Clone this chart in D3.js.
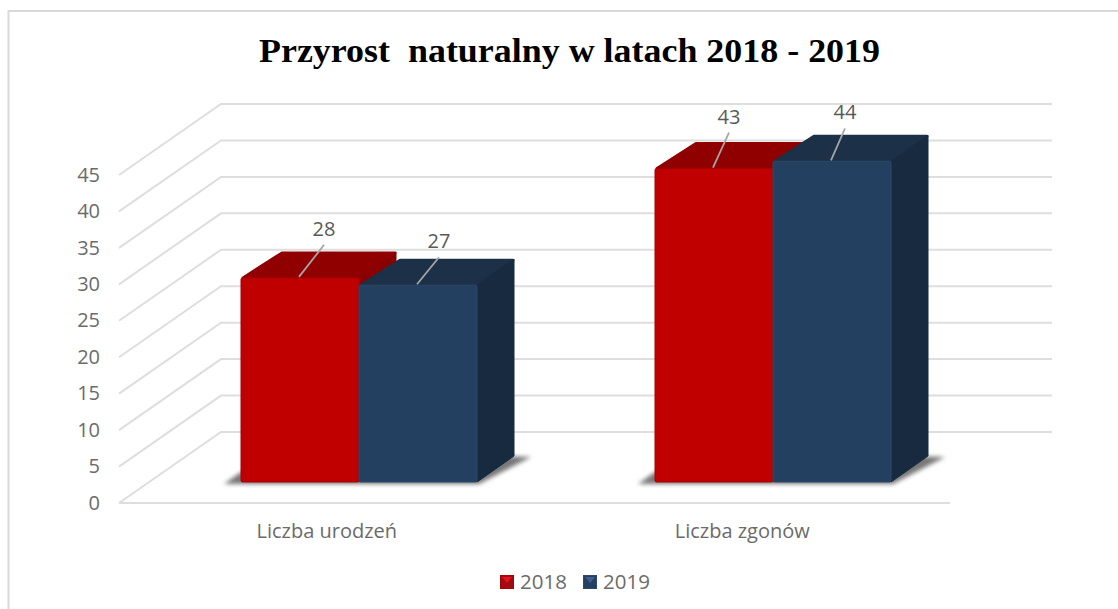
<!DOCTYPE html>
<html><head><meta charset="utf-8">
<script src="https://cdn.jsdelivr.net/npm/d3@7/dist/d3.min.js"></script>
<style>html,body{margin:0;background:#fff}svg{display:block}</style></head>
<body><svg id="c" width="1118" height="609"></svg>
<script>
const titleText = "Przyrost  naturalny w latach 2018 - 2019";
const categories = ["Liczba urodzeń", "Liczba zgonów"];
const seriesNames = ["2018", "2019"];
const values2018 = [28, 43];
const values2019 = [27, 44];
const tickValues = [0, 5, 10, 15, 20, 25, 30, 35, 40, 45];

const W = 1118, H = 609;
const svg = d3.select("#c");
const defs = svg.append("defs");
defs.append("filter").attr("id","sh").attr("x","-20%").attr("y","-50%").attr("width","140%").attr("height","200%")
  .append("feGaussianBlur").attr("stdDeviation",2.2);

const y = d3.scaleLinear().domain([0,45]).range([503,175]);
const x0 = d3.scaleBand().domain(categories).range([119,950]);
const xBars = d3.scaleBand().domain(categories).range([152,980]);
const backDx = 102, backDy = -71;
const barPlaneDy = -21;
const barDepth = {dx:37, dy:-26};
const barW = 118;
const colors = {
  "2018":{front:"#c00000",top:"#900000",side:"#8a0000",edge:"#a80000",legend:"#e8101a",legendBase:"#a00a10"},
  "2019":{front:"#244061",top:"#1c3048",side:"#172a40",edge:"#2f4869",legend:"#3d5f8f",legendBase:"#243f63"}
};
const grid = "#dedede";
const textCol = "#6b6b6b";
const sans = "'Open Sans','Noto Sans',sans-serif";

// frame: top and left edges only
svg.append("path").attr("d",`M8.5,${H} V11 H${W}`).attr("fill","none").attr("stroke","#d9d9d9").attr("stroke-width",2);

// title
svg.append("text").attr("x",259).attr("y",62)
  .attr("font-family","'Liberation Serif',serif").attr("font-weight","bold").attr("font-size",33)
  .attr("textLength",621).attr("lengthAdjust","spacingAndGlyphs")
  .attr("xml:space","preserve").style("white-space","pre").attr("fill","#000").text(titleText);

// gridlines: back wall + side wall
const g = svg.append("g").attr("fill","none").attr("stroke",grid).attr("stroke-width",2);
tickValues.forEach(t=>{
  const x1=x0.range()[0], x2=x1+backDx, yy=y(t);
  g.append("path").attr("d",`M${x1},${yy} L${x2},${yy+backDy} H${x0.range()[1]+backDx}`);
});
g.append("path").attr("d",`M${x0.range()[0]},${y(0)} H${x0.range()[1]}`);

// axis labels
const yAxis = d3.axisLeft(y).tickValues(tickValues).tickSize(0).tickPadding(0);
const ya = svg.append("g").attr("transform","translate(100,-1)").call(yAxis);
ya.select(".domain").remove();
ya.selectAll("text").attr("font-family",sans).attr("font-size",20).attr("fill",textCol).attr("dy","0.36em");

const xAxis = d3.axisBottom(x0).tickSize(0).tickPadding(0);
const xa = svg.append("g").attr("transform","translate(0,538)").call(xAxis);
xa.select(".domain").remove();
xa.selectAll("text").attr("font-family",sans).attr("font-size",20).attr("fill",textCol).attr("dy",0);

// bars
const series = [{name:"2018",vals:values2018},{name:"2019",vals:values2019}];
const leaderDx=[[24,21],[15,13]], leaderDy=[[-33,-28],[-36,-33]];
const base = y(0)+barPlaneDy;
const scaleH = v => y(0)-y(v);
const center = c => xBars(c)+xBars.bandwidth()/2;

categories.forEach((c,ci)=>{
  const cx = center(c);
  svg.append("path").attr("filter","url(#sh)").attr("fill","#777")
    .attr("d",`M${cx-barW-17},${base+2} L${cx+barW+2},${base+2} L${cx+barW+54},${base+barDepth.dy+1} L${cx+barW+20},${base+barDepth.dy} L${cx-barW},${base-10} Z`);
  series.forEach((s,si)=>{
    const v = s.vals[ci], col = colors[s.name];
    const x = cx+(si-1)*barW, top = base-scaleH(v), d=barDepth;
    const b = svg.append("g");
    b.append("path").attr("fill",col.top).attr("stroke",col.top).attr("stroke-width",3).attr("stroke-linejoin","round")
      .attr("d",`M${x+2},${top} L${x+d.dx+4},${top+d.dy+1} H${x+barW+d.dx-1} L${x+barW},${top} Z`);
    b.append("path").attr("fill",col.side).attr("stroke",col.side).attr("stroke-linejoin","round")
      .attr("d",`M${x+barW},${top} L${x+barW+d.dx},${top+d.dy} V${base+d.dy} L${x+barW},${base} Z`);
    b.append("rect").attr("x",x).attr("y",top).attr("width",barW).attr("height",base-top).attr("rx",1.5)
      .attr("fill",col.front).attr("stroke",col.edge).attr("stroke-width",1);
    const lx = x+barW/2, ex = lx+leaderDx[ci][si], ey = top+leaderDy[ci][si];
    svg.append("line").attr("x1",lx-1).attr("y1",top-1).attr("x2",ex).attr("y2",ey)
      .attr("stroke","#a6a6a6").attr("stroke-width",1.8);
    svg.append("text").attr("x",ex).attr("y",ey-9).attr("text-anchor","middle")
      .attr("font-family",sans).attr("font-size",20).attr("fill","#595959").text(v);
  });
});

// legend
const legendX = [500, 583];
seriesNames.forEach((n,i)=>{
  const lx = legendX[i], col=colors[n];
  const lg=svg.append("g");
  lg.append("rect").attr("x",lx+.5).attr("y",575.5).attr("width",13).attr("height",13).attr("fill",col.legendBase).attr("stroke",col.edge);
  lg.append("path").attr("d",`M${lx+2},577 H${lx+12} L${lx+7},583 Z`).attr("fill",col.legend);
  lg.append("text").attr("x",lx+20).attr("y",589).attr("font-family",sans).attr("font-size",20.5).attr("fill",textCol).text(n);
});
</script></body></html>
